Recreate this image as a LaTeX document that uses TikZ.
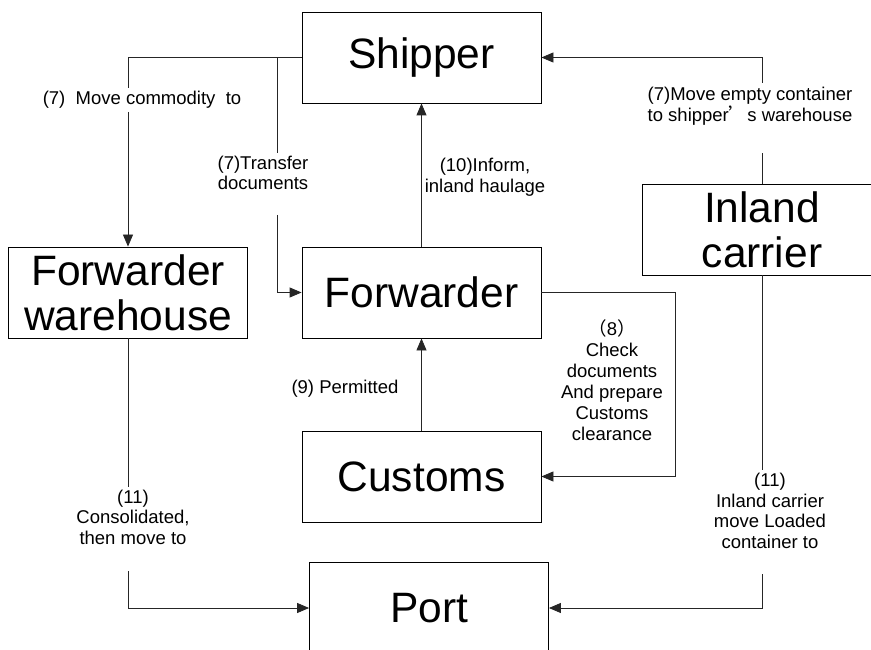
\documentclass[tikz,border=0pt]{standalone}
\usepackage{fontspec}
\setmainfont{Liberation Sans}
\newfontfamily\cjk{Noto Sans CJK SC}
\usetikzlibrary{arrows.meta}
\begin{document}
\begin{tikzpicture}[x=1pt,y=-1pt,
  box/.style={draw=black,line width=0.8pt,minimum width=239pt,minimum height=91pt,inner sep=0pt,font=\fontsize{42.5}{45}\selectfont,align=center},
  lbl/.style={font=\fontsize{18.5}{20.5}\selectfont,align=center,inner sep=0pt},
  conn/.style={line width=0.8pt,draw=black!85},
  arr/.style={conn,-{Triangle[length=12pt,width=10pt]}}]
\useasboundingbox (0,0) rectangle (871,650);
\node[box] (shipper) at (421.5,57.5) {Shipper};
\node[box] (fwd) at (421.5,292.5) {Forwarder};
\node[box] (fww) at (128,292.5) {Forwarder\\warehouse};
\node[box] (cust) at (421.5,476.5) {Customs};
\node[box] (port) at (429,608) {Port};
\node[box] (inland) at (762,229.5) {Inland\\carrier};
% labels
\node[lbl] (lA) at (142,100) {(7)\ \ Move commodity\ \ to};
\node[lbl] (lB) at (263,173) {(7)Transfer\\documents};
\node[lbl] (lC) at (485,177) {(10)Inform,\\inland haulage};
\node[lbl] (lD) at (750,106) {(7)Move empty container\\to shipper{\cjk ’}s warehouse};
\node[lbl,font=\fontsize{18.5}{21}\selectfont] (lE) at (612,380) {{\cjk （}8{\cjk ）}\\Check\\documents\\And prepare\\Customs\\clearance};
\node[lbl] (lF) at (345,389) {(9) Permitted};
\node[lbl] (lG) at (133,517) {(11)\\Consolidated,\\then move to};
\node[lbl] (lH) at (770,511) {(11)\\Inland carrier\\move Loaded\\container to};
% coordinates
\coordinate (a1) at (128,88);
\coordinate (a2) at (128,112);
\coordinate (b0) at (277,58);
\coordinate (b1) at (277,153);
\coordinate (b2) at (277,215);
\coordinate (d1) at (762,153);
\coordinate (d2) at (762,83);
\coordinate (e1) at (675,292.5);
\coordinate (g1) at (128,487);
\coordinate (g2) at (128,571);
\coordinate (h1) at (762,470);
\coordinate (h2) at (762,574);
% connectors
\draw[conn] (shipper.west) -| (a1);
\draw[arr] (a2) -- (fww.north);
\draw[conn] (b0) -- (b1);
\draw[arr] (b2) |- (fwd.west);
\draw[arr] (fwd.north) -- (shipper.south);
\draw[conn] (inland.north) -- (d1);
\draw[arr] (d2) |- (shipper.east);
\draw[arr] (fwd.east) -- (e1) |- (cust.east);
\draw[arr] (cust.north) -- (fwd.south);
\draw[conn] (fww.south) -- (g1);
\draw[arr] (g2) |- (port.west);
\draw[conn] (inland.south) -- (h1);
\draw[arr] (h2) |- (port.east);
\end{tikzpicture}
\end{document}
